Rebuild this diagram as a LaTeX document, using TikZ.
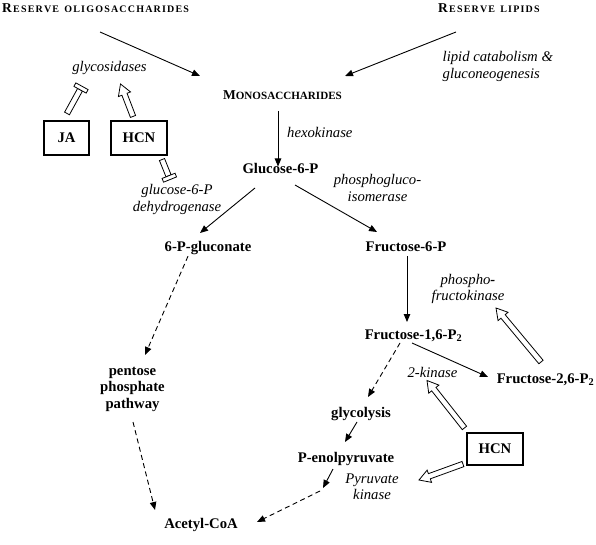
\documentclass[tikz,border=0pt]{standalone}
\usepackage{fontspec}
\setmainfont{Liberation Serif}
\usetikzlibrary{arrows.meta,calc}
\newcommand\lsp[1]{\lspaux#1\relax}
\def\lspaux#1{\ifx\relax#1\else#1\kern1.2pt\expandafter\lspaux\fi}
\newcommand\mystack[2][c]{\begin{tabular}[t]{@{}#1@{}}#2\end{tabular}}
\newcommand\harrow[2]{%
 \coordinate (hF) at ($(#1)!2!(#2)$);
 \coordinate (hN) at ($(#2)!11pt!(#1)$);
 \draw[hollowline] ($(#1)!2.75pt!90:(hF)$) -- ($(hN)!2.75pt!90:(hF)$) -- ($(hN)!6.5pt!90:(hF)$) -- (#2) -- ($(hN)!6.5pt!-90:(hF)$) -- ($(hN)!2.75pt!-90:(hF)$) -- ($(#1)!2.75pt!-90:(hF)$) -- cycle;}
\newcommand\tbar[2]{%
 \coordinate (tF) at ($(#1)!2!(#2)$);
 \coordinate (tN) at ($(#2)!2pt!(#1)$);
 \coordinate (tB) at ($(#2)!2pt!(tF)$);
 \draw[hollowline] ($(#1)!2.75pt!90:(tF)$) -- ($(tN)!2.75pt!90:(tF)$) -- ($(tN)!2.75pt!-90:(tF)$) -- ($(#1)!2.75pt!-90:(tF)$) -- cycle;
 \draw[hollowline] ($(tN)!7pt!90:(tF)$) -- ($(tB)!7pt!90:(tF)$) -- ($(tB)!7pt!-90:(tF)$) -- ($(tN)!7pt!-90:(tF)$) -- cycle;}
\tikzset{
 txt/.style={inner sep=0pt, font=\fontsize{14.7}{16.6}\selectfont},
 bld/.style={inner sep=0pt, font=\fontsize{14.7}{16.6}\selectfont\bfseries},
 itl/.style={inner sep=0pt, font=\fontsize{14.7}{16.6}\selectfont\itshape},
 boxn/.style={bld, draw, line width=1.1pt, minimum height=34pt},
 arr/.style={line width=0.9pt, -{Triangle[length=8pt,width=6.5pt]}},
 darr/.style={arr, dash pattern=on 5pt off 3.5pt},
 hollowline/.style={line width=0.8pt, fill=white, line join=miter}
}
\begin{document}
\begin{tikzpicture}[x=1pt,y=-1pt]
\useasboundingbox (0,0) rectangle (596,545);
% header nodes
\node[inner sep=0pt, anchor=base west, font=\bfseries] (resol) at (2,13)
  {{\fontsize{13.5}{15}\selectfont R}\kern1.2pt{\fontsize{10}{12}\selectfont\lsp{ESERVE}\hspace{4pt}\lsp{OLIGOSACCHARIDES}}};
\node[inner sep=0pt, anchor=base west, font=\bfseries] (reslip) at (438,12.5)
  {{\fontsize{13.5}{15}\selectfont R}\kern1.2pt{\fontsize{10}{12}\selectfont\lsp{ESERVE}\hspace{4pt}\lsp{LIPIDS}}};
\node[itl, anchor=base west] (lipid) at (442.5,61.7) {\mystack[l]{lipid catabolism \&\\gluconeogenesis}};
\node[inner sep=0pt, anchor=base, font=\bfseries] (mono) at (282.5,100)
  {{\fontsize{13.5}{15}\selectfont M}{\fontsize{11.1}{13}\selectfont ONOSACCHARIDES}};
\node[itl, anchor=base west] (hexo) at (287,138) {hexokinase};
\node[bld, anchor=base] (gluc) at (280.5,173.5) {Glucose-6-P};
\node[itl, anchor=base] (pgi) at (377.5,185) {\mystack{phosphogluco-\\isomerase}};
\node[itl, anchor=base] (glycos) at (109.5,72) {glycosidases};
\node[boxn, minimum width=45pt] (ja) at (66.5,138) {JA};
\node[boxn, minimum width=56pt] (hcn1) at (139,138) {HCN};
\node[itl, anchor=base] (g6pdh) at (177,195) {\mystack{glucose-6-P\\dehydrogenase}};
\node[bld, anchor=base] (pgluc) at (208,251.7) {6-P-gluconate};
\node[bld, anchor=base] (ppp) at (132.5,375) {\mystack{pentose\\phosphate\\pathway}};
\node[bld, anchor=base] (acetyl) at (201,528) {Acetyl-CoA};
\node[bld, anchor=base] (f6p) at (406,251) {Fructose-6-P};
\node[itl, anchor=base] (pfk) at (468,284) {\mystack{phospho\textbf{-}\\fructokinase}};
\node[bld, anchor=base] (f16) at (413.5,339) {Fructose-1,6-P\textsubscript{2}};
\node[bld, anchor=base] (f26) at (545.5,383) {Fructose-2,6-P\textsubscript{2}};
\node[itl, anchor=base] (kin2) at (432.5,377) {2-kinase};
\node[bld, anchor=base] (glyc) at (361,417) {glycolysis};
\node[bld, anchor=base] (penol) at (346,462) {P-enolpyruvate};
\node[itl, anchor=base] (pk) at (372,483) {\mystack{Pyruvate\\kinase}};
\node[boxn, minimum width=56pt, minimum height=32pt] (hcn2) at (495,449) {HCN};
% connectors
\draw[arr] ([shift={(98,19)}]resol.base west) -- ([shift={(-82.5,-24)}]mono.base);
\draw[arr] ([shift={(18,19.5)}]reslip.base west) -- ([shift={(62.5,-24)}]mono.base);
\draw[arr] ([shift={(-4.5,11)}]mono.base) -- ([shift={(-2.5,-7)}]gluc.base);
\draw[arr] ([shift={(-25.5,14.5)}]gluc.base) -- ([shift={(-8,-18.7)}]pgluc.base);
\draw[arr] ([shift={(14.5,11.5)}]gluc.base) -- ([shift={(-29,-19)}]f6p.base);
\draw[darr] ([shift={(-20,4.5)}]pgluc.base) -- ([shift={(12.5,-20)}]ppp.base);
\draw[darr] ([shift={(0.5,47)}]ppp.base) -- ([shift={(-46,-18)}]acetyl.base);
\draw[arr] ([shift={(1,5)}]f6p.base) -- ([shift={(-6.5,-17)}]f16.base);
\draw[arr] ([shift={(-1.5,4)}]f16.base) -- ([shift={(-57.5,-6)}]f26.base);
\draw[darr] ([shift={(-13.5,4)}]f16.base) -- ([shift={(7,-20)}]glyc.base);
\draw[arr] ([shift={(-4,5)}]glyc.base) -- ([shift={(-1,-20)}]penol.base);
\coordinate (pkpt) at ([shift={(-49,5)}]pk.base);
\draw[arr] ([shift={(-13,7)}]penol.base) -- (pkpt);
\draw[darr] ([shift={(-3,3)}]pkpt) -- ([shift={(56,-6)}]acetyl.base);
% hollow arrows and inhibition bars
\coordinate (h1t) at ([shift={(-6,-4)}]hcn1.north);
\coordinate (h1h) at ([shift={(11,12)}]glycos.base);
\harrow{h1t}{h1h}
\coordinate (i1t) at ([shift={(0.5,-7)}]ja.north);
\coordinate (i1h) at ([shift={(-28.5,16)}]glycos.base);
\tbar{i1t}{i1h}
\coordinate (i2t) at ([shift={(23,4)}]hcn1.south);
\coordinate (i2h) at ([shift={(-7.7,-17.3)}]g6pdh.base);
\tbar{i2t}{i2h}
\coordinate (h2t) at ([shift={(-4.5,-21)}]f26.base);
\coordinate (h2h) at ([shift={(28,24)}]pfk.base);
\harrow{h2t}{h2h}
\coordinate (h3t) at ([shift={(-2,-4.5)}]hcn2.north west);
\coordinate (h3h) at ([shift={(-5.5,3.5)}]kin2.base);
\harrow{h3t}{h3h}
\coordinate (h4t) at ([shift={(-3.5,-1.5)}]hcn2.south west);
\coordinate (h4h) at ([shift={(47,-3)}]pk.base);
\harrow{h4t}{h4h}
\end{tikzpicture}
\end{document}
